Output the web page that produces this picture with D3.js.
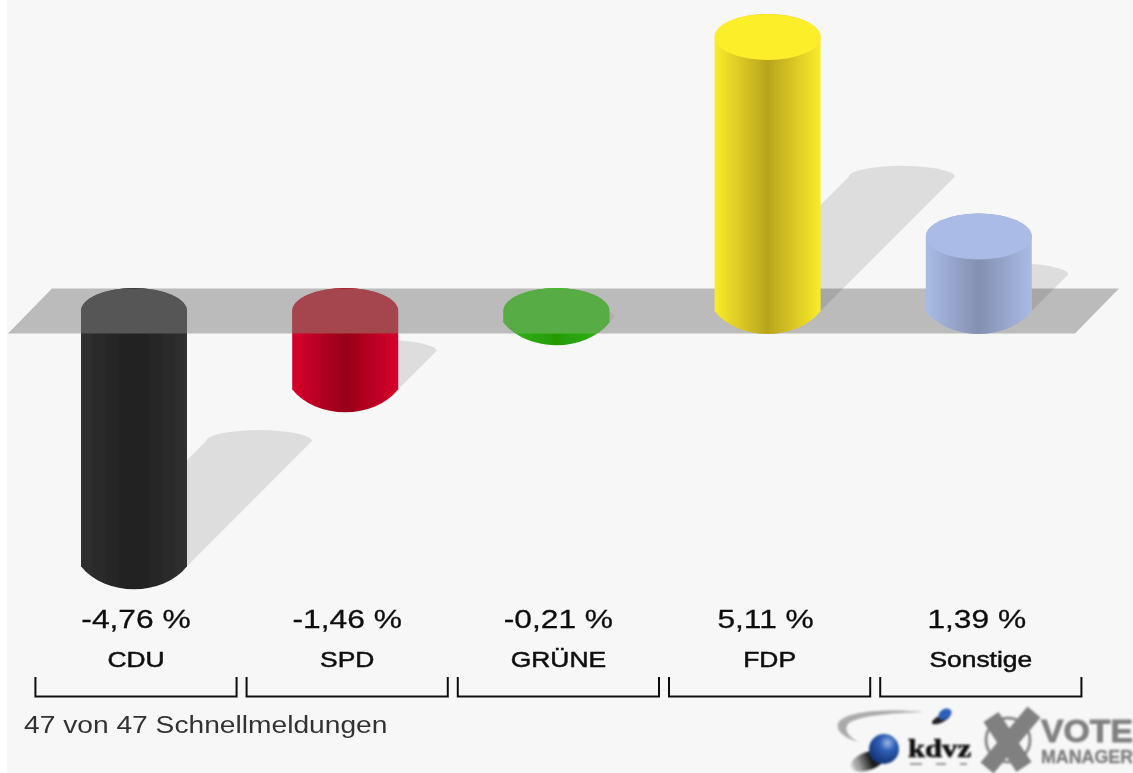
<!DOCTYPE html>
<html>
<head>
<meta charset="utf-8">
<script src="https://cdn.jsdelivr.net/npm/d3@7"></script>
<style>
  html, body { margin: 0; padding: 0; background: #fff; }
  svg { display: block; }
  text { font-family: "Liberation Sans", Arial, sans-serif; }
</style>
</head>
<body>
<svg id="canvas" width="1133" height="773"></svg>
<script>
// data
var categories = ['CDU', 'SPD', 'GRÜNE', 'FDP', 'Sonstige'];
var values = [-4.76, -1.46, -0.21, 5.11, 1.39];
var valueLabels = ['-4,76 %', '-1,46 %', '-0,21 %', '5,11 %', '1,39 %'];
var footnote = '47 von 47 Schnellmeldungen';

// colours per bar: side edge, side middle, flat cap
var edgeColors = ['#303030', '#d8002c', '#35b51a', '#faec2a', '#a9bbe6'];
var midColors = ['#202020', '#960018', '#259a05', '#b8a41e', '#8490b0'];
var capColors = ['#262626', '#c80014', '#2bd700', '#fdee2c', '#a9bbe6'];

var width = 1133, height = 773;
var rx = 53, ry = 23;
var bandHalf = 22.5, bandSlant = 44;
var shadowSlope = 0.49, shadowRy = 11;

var svg = d3.select('#canvas');
var defs = svg.append('defs');

defs.append('filter').attr('id', 'soft').attr('x', '-5%').attr('y', '-5%').attr('width', '110%').attr('height', '110%')
  .append('feGaussianBlur').attr('stdDeviation', 0.7);
defs.append('filter').attr('id', 'softer').attr('x', '-20%').attr('y', '-20%').attr('width', '140%').attr('height', '140%')
  .append('feGaussianBlur').attr('stdDeviation', 1);

svg.append('rect').attr('x', 7).attr('y', 0).attr('width', width - 7).attr('height', height).attr('fill', '#f7f7f7');

var xScale = d3.scaleBand().domain(categories).range([30.4, 1086.4]);
var yScale = d3.scaleLinear().domain([-5, 6]).range([579, -10.6]);
var zero = yScale(0);

var root = svg.append('g').attr('filter', 'url(#soft)');

function cx(d) { return xScale(d) + xScale.bandwidth() / 2 - 2; }

// gradients
categories.forEach(function(c, i) {
  var g = defs.append('linearGradient').attr('id', 'side' + i);
  [[0, edgeColors[i]], [0.5, midColors[i]], [1, edgeColors[i]]].forEach(function(s) {
    g.append('stop').attr('offset', s[0]).attr('stop-color', s[1]);
  });
});

function bodyPath(d, v) {
  var c = cx(d), end = yScale(v);
  var top = Math.min(zero, end), bottom = Math.max(zero, end);
  // the lower end of the cylinder is flatter at the sides than a true ellipse
  var depth = ry / 0.75;
  return 'M' + (c - rx) + ' ' + top +
    ' A' + rx + ' ' + ry + ' 0 0 1 ' + (c + rx) + ' ' + top +
    ' L' + (c + rx) + ' ' + bottom +
    ' C' + (c + rx * 0.55) + ' ' + (bottom + depth) + ' ' + (c - rx * 0.55) + ' ' + (bottom + depth) + ' ' + (c - rx) + ' ' + bottom + ' Z';
}

function shadowPath(d, v) {
  var c = cx(d), end = yScale(v);
  var baseY = Math.max(zero, end);
  var off = Math.abs(zero - end) * shadowSlope;
  return 'M' + (c - rx) + ' ' + baseY +
    ' L' + (c - rx + off) + ' ' + (baseY - off) +
    ' A' + rx + ' ' + shadowRy + ' 0 0 1 ' + (c + rx + off) + ' ' + (baseY - off) +
    ' L' + (c + rx) + ' ' + baseY + ' Z';
}

function drawShadow(i) {
  root.append('path').attr('d', shadowPath(categories[i], values[i])).attr('fill', '#000').attr('opacity', 0.1);
}

// negative bars go under the grey band, positive ones on top of it
categories.forEach(function(c, i) {
  if (values[i] >= 0) return;
  drawShadow(i);
  defs.append('clipPath').attr('id', 'clip' + i).append('path').attr('d', bodyPath(c, values[i]));
  root.append('path').attr('d', bodyPath(c, values[i])).attr('fill', 'url(#side' + i + ')');
  root.append('rect')
    .attr('x', cx(c) - rx).attr('y', zero - ry - 2)
    .attr('width', rx * 2).attr('height', ry + 2 + bandHalf)
    .attr('fill', capColors[i]).attr('clip-path', 'url(#clip' + i + ')');
});

var x0 = 8, x1 = 1075;
root.append('path')
  .attr('d', 'M' + x0 + ' ' + (zero + bandHalf) +
    ' L' + (x0 + bandSlant) + ' ' + (zero - bandHalf) +
    ' L' + (x1 + bandSlant) + ' ' + (zero - bandHalf) +
    ' L' + x1 + ' ' + (zero + bandHalf) + ' Z')
  .attr('fill', '#848484').attr('opacity', 0.52);

categories.forEach(function(c, i) {
  if (values[i] < 0) return;
  drawShadow(i);
  root.append('path').attr('d', bodyPath(c, values[i])).attr('fill', 'url(#side' + i + ')');
  root.append('ellipse')
    .attr('cx', cx(c)).attr('cy', yScale(values[i]))
    .attr('rx', rx).attr('ry', ry)
    .attr('fill', capColors[i]);
});

// brackets under the bars
var bracketTop = 677, bracketBottom = 696.5, bracketInset = 5;
root.selectAll('path.bracket').data(categories).join('path')
  .attr('class', 'bracket')
  .attr('d', function(d) {
    var a = xScale(d) + bracketInset, b = xScale(d) + xScale.bandwidth() - bracketInset;
    return 'M' + a + ' ' + bracketTop + ' L' + a + ' ' + bracketBottom + ' L' + b + ' ' + bracketBottom + ' L' + b + ' ' + bracketTop;
  })
  .attr('fill', 'none').attr('stroke', '#111').attr('stroke-width', 2);

function stretch(sel, f) {
  sel.each(function() {
    this.setAttribute('textLength', this.getComputedTextLength() * f);
    this.setAttribute('lengthAdjust', 'spacingAndGlyphs');
  });
}

// positive values sit a little left of the bracket centre
root.selectAll('text.value').data(categories).join('text')
  .attr('class', 'value')
  .attr('x', function(d, i) { return xScale(d) + xScale.bandwidth() / 2 - (values[i] >= 0 ? 4 : 0); })
  .attr('y', 627.5)
  .attr('text-anchor', 'middle').attr('font-size', 26).attr('fill', '#111')
  .attr('stroke', '#111').attr('stroke-width', 0.3)
  .text(function(d, i) { return valueLabels[i]; })
  .call(stretch, 1.22);

root.selectAll('text.label').data(categories).join('text')
  .attr('class', 'label')
  .attr('x', function(d) { return xScale(d) + xScale.bandwidth() / 2; })
  .attr('y', 666.5)
  .attr('text-anchor', 'middle').attr('font-size', 22).attr('fill', '#111')
  .attr('stroke', '#111').attr('stroke-width', 0.5)
  .text(function(d) { return d; })
  .call(stretch, 1.2);

root.append('text')
  .attr('x', 24).attr('y', 733)
  .attr('font-size', 23).attr('fill', '#333')
  .text(footnote)
  .call(stretch, 1.225);

// logos
var logo = svg.append('g').attr('filter', 'url(#softer)');

var ball = defs.append('radialGradient').attr('id', 'ball').attr('cx', 0.62).attr('cy', 0.3).attr('r', 0.75);
ball.append('stop').attr('offset', 0).attr('stop-color', '#9db8e8');
ball.append('stop').attr('offset', 0.35).attr('stop-color', '#2f5fb8');
ball.append('stop').attr('offset', 1).attr('stop-color', '#12306e');

var dusk = defs.append('linearGradient').attr('id', 'dusk');
dusk.append('stop').attr('offset', 0).attr('stop-color', '#111').attr('stop-opacity', 0.1);
dusk.append('stop').attr('offset', 0.6).attr('stop-color', '#111').attr('stop-opacity', 0.95);

logo.append('path').attr('d', 'M924 712 C880 708 842 712 838 724 C836 732 846 738 858 742 C848 736 844 730 848 724 C856 716 890 713 924 712 Z').attr('fill', '#aaa');
logo.append('ellipse').attr('cx', 868).attr('cy', 761).attr('rx', 18).attr('ry', 9).attr('transform', 'rotate(-20 868 761)').attr('fill', 'url(#dusk)');
logo.append('circle').attr('cx', 884).attr('cy', 749).attr('r', 15).attr('fill', 'url(#ball)');
logo.append('ellipse').attr('cx', 941).attr('cy', 719).attr('rx', 10).attr('ry', 3.5).attr('transform', 'rotate(-25 941 719)').attr('fill', '#222');
logo.append('ellipse').attr('cx', 945).attr('cy', 714).attr('rx', 7).attr('ry', 5).attr('transform', 'rotate(-30 945 714)').attr('fill', '#2f5fb8');

logo.append('text')
  .attr('x', 908).attr('y', 757)
  .style('font-family', '"Liberation Serif", serif').attr('font-weight', 'bold')
  .attr('font-size', 25).attr('fill', '#111')
  .attr('stroke', '#111').attr('stroke-width', 0.6)
  .attr('textLength', 63).attr('lengthAdjust', 'spacingAndGlyphs')
  .text('kdvz');
[[910, 12], [936, 10], [960, 7]].forEach(function(t) {
  logo.append('rect').attr('x', t[0]).attr('y', 763).attr('width', t[1]).attr('height', 2).attr('fill', '#999');
});

logo.append('circle').attr('cx', 1008).attr('cy', 740).attr('r', 22).attr('fill', 'none').attr('stroke', '#8a8a8a').attr('stroke-width', 3);
logo.append('path').attr('d', 'M991 717 L1024 767').attr('stroke', '#808080').attr('stroke-width', 18);
logo.append('path').attr('d', 'M1034 712 L987 768').attr('stroke', '#808080').attr('stroke-width', 17);

logo.append('text')
  .attr('x', 1041).attr('y', 742)
  .attr('font-weight', 'bold').attr('font-size', 31).attr('fill', '#808080')
  .attr('stroke', '#808080').attr('stroke-width', 0.8)
  .attr('textLength', 92).attr('lengthAdjust', 'spacingAndGlyphs')
  .text('VOTE');
logo.append('text')
  .attr('x', 1041).attr('y', 763)
  .attr('font-weight', 'bold').attr('font-size', 18).attr('fill', '#808080')
  .attr('stroke', '#808080').attr('stroke-width', 0.4)
  .attr('textLength', 92).attr('lengthAdjust', 'spacingAndGlyphs')
  .text('MANAGER');
</script>
</body>
</html>
